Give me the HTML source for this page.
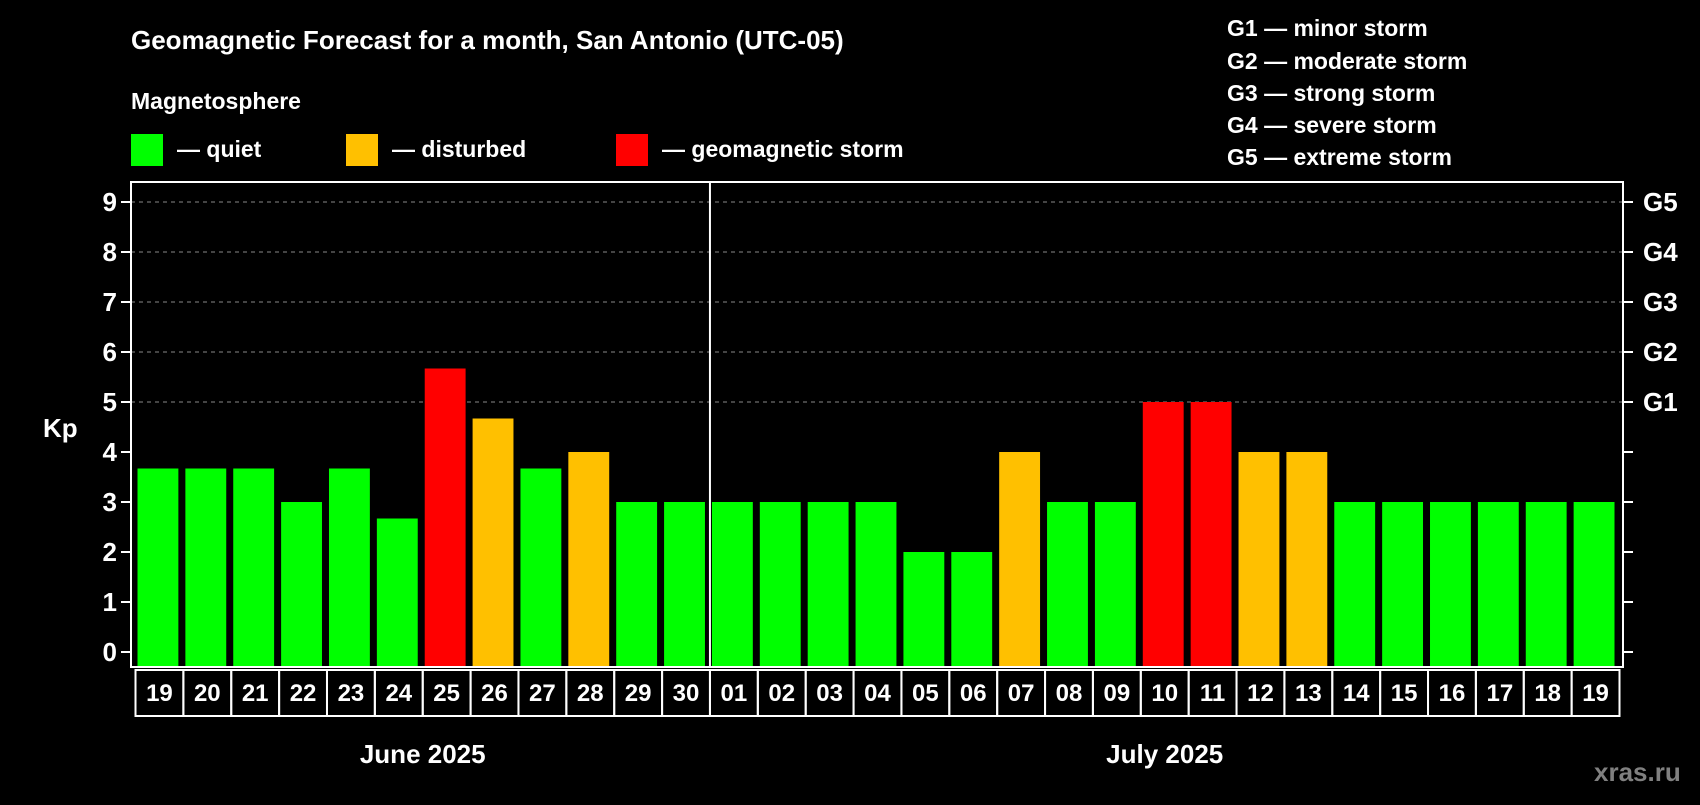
<!DOCTYPE html>
<html><head><meta charset="utf-8"><style>
body{margin:0;background:#000;width:1700px;height:800px;overflow:hidden}
svg text{font-family:"Liberation Sans",sans-serif;font-weight:bold;fill:#fff}
</style></head><body>
<svg id="c" width="1700" height="800">
<text x="131" y="49" font-size="26">Geomagnetic Forecast for a month, San Antonio (UTC-05)</text>
<text x="131" y="109" font-size="23">Magnetosphere</text>
<g><rect x="131" y="134" width="32" height="32" fill="#00ff00"/><text x="177" y="157" font-size="23">— quiet</text></g>
<g><rect x="346" y="134" width="32" height="32" fill="#ffc000"/><text x="392" y="157" font-size="23">— disturbed</text></g>
<g><rect x="616" y="134" width="32" height="32" fill="#ff0000"/><text x="662" y="157" font-size="23">— geomagnetic storm</text></g>
<g font-size="23">
<text x="1227" y="36">G1 — minor storm</text><text x="1227" y="69">G2 — moderate storm</text><text x="1227" y="101">G3 — strong storm</text><text x="1227" y="133">G4 — severe storm</text><text x="1227" y="165">G5 — extreme storm</text></g>
<text x="43" y="437" font-size="26">Kp</text>
<text x="1594" y="781" font-size="26" fill="#808080" style="fill:#808080">xras.ru</text>
<g id="g"></g>
</svg>
<script>
const days=["19","20","21","22","23","24","25","26","27","28","29","30","01","02","03","04","05","06","07","08","09","10","11","12","13","14","15","16","17","18","19"];
const kp=[3.67,3.67,3.67,3,3.67,2.67,5.67,4.67,3.67,4,3,3,3,3,3,3,2,2,4,3,3,5,5,4,4,3,3,3,3,3,3];
const yTicks=[0,1,2,3,4,5,6,7,8,9];
const gLabels=["","","","","","G1","G2","G3","G4","G5"];
const months=["June 2025","July 2025"];
const monthDays=[12,19];
const NS="http://www.w3.org/2000/svg",g=document.getElementById('g');
const L=131,R=1623,T=182,B=667,x0=136.5,pitch=(1620.5-136.5)/days.length;
const y=v=>652-v*50, x=i=>x0+i*pitch;
function mk(t,a,txt){const e=document.createElementNS(NS,t);for(const k in a)e.setAttribute(k,a[k]);if(txt!==undefined)e.textContent=txt;g.appendChild(e);return e;}
yTicks.forEach(v=>{
 if(v>=5){const l=mk('line',{x1:L,x2:R,y1:y(v),y2:y(v),stroke:'#888','stroke-dasharray':'4 4'});}
 const t1=mk('line',{x1:L-10,x2:L,y1:y(v),y2:y(v),stroke:'#fff','stroke-width':2});
 const t2=mk('line',{x1:R,x2:R+10,y1:y(v),y2:y(v),stroke:'#fff','stroke-width':2});
 const tl=mk('text',{x:L-14,y:y(v)+9,'text-anchor':'end','font-size':26},String(v));
 if(gLabels[v]){const gl=mk('text',{x:R+20,y:y(v)+9,'font-size':26},gLabels[v]);}
});
kp.forEach((v,i)=>{
 const c=v>=5?'#ff0000':v>=4?'#ffc000':'#00ff00';
 const r=mk('rect',{x:x(i)+1,y:y(v),width:pitch-7,height:y(0)-y(v)+14,fill:c});
 
 const b=mk('rect',{x:x(i)-1,y:670,width:pitch,height:46,fill:'none',stroke:'#fff','stroke-width':2});
 
 const t=mk('text',{x:x(i)-1+pitch/2,y:701,'text-anchor':'middle','font-size':24},days[i]);
 
});
const fr=mk('rect',{x:L,y:T,width:R-L,height:B-T,fill:'none',stroke:'#fff','stroke-width':2});

let start=0;
months.forEach((m,k)=>{
 const cx=(x(start)+x(start+monthDays[k]))/2-1;
 const t=mk('text',{x:cx,y:763,'text-anchor':'middle','font-size':26},m);
 
 start+=monthDays[k];
 if(k<months.length-1){const d=mk('line',{x1:x(start)-1,x2:x(start)-1,y1:T,y2:B,stroke:'#fff','stroke-width':2});}
});
</script>
</body></html>
